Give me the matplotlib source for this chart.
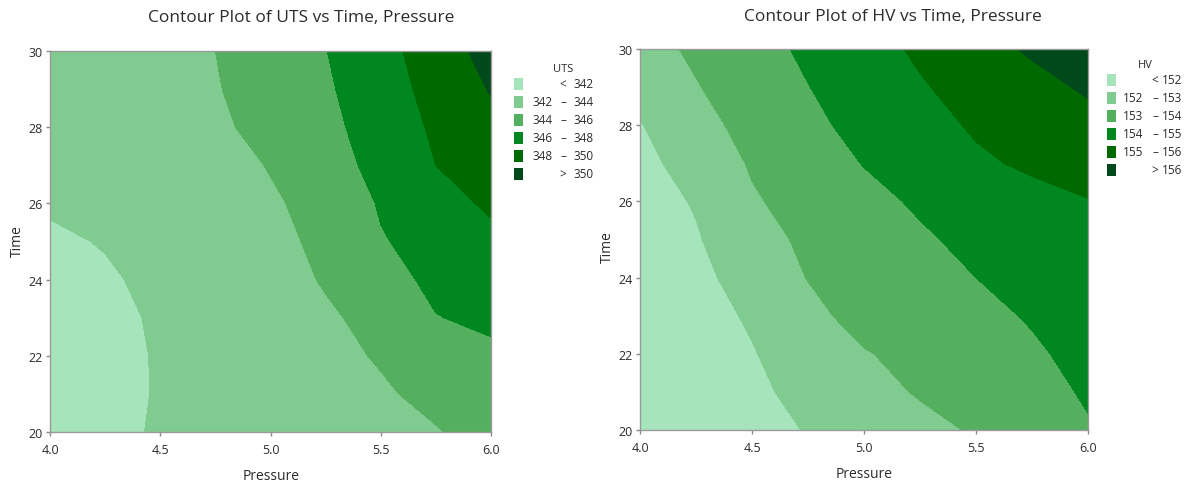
import matplotlib
matplotlib.use('Agg')
import matplotlib.pyplot as plt
from matplotlib.patches import Rectangle

plt.rcParams['font.family'] = ['Open Sans', 'DejaVu Sans']

# grid
pressure = [4.0, 4.25, 4.5, 4.75, 5.0, 5.25, 5.5, 5.75, 6.0]
time = [20, 21, 22, 23, 24, 25, 26, 27, 28, 29, 30]

# UTS, one row per time value
uts = [
    [341.40, 341.75, 342.10, 342.46, 342.83, 343.19, 343.55, 343.91, 344.60],
    [341.35, 341.70, 342.07, 342.50, 342.94, 343.37, 343.81, 344.39, 345.10],
    [341.35, 341.70, 342.08, 342.58, 343.08, 343.58, 344.13, 344.91, 345.70],
    [341.40, 341.74, 342.13, 342.70, 343.26, 343.82, 344.38, 345.95, 346.30],
    [341.55, 341.85, 342.28, 342.87, 343.46, 344.11, 345.42, 346.34, 346.95],
    [341.80, 342.07, 342.61, 343.15, 343.70, 344.24, 345.85, 346.75, 347.60],
    [342.15, 342.58, 343.01, 343.45, 343.88, 344.31, 346.19, 347.38, 348.25],
    [342.45, 342.84, 343.23, 343.63, 344.05, 345.24, 346.53, 348.00, 348.90],
    [342.70, 343.06, 343.41, 343.77, 344.40, 345.51, 346.85, 348.29, 349.50],
    [342.95, 343.27, 343.58, 343.90, 344.71, 345.75, 347.12, 348.63, 350.12],
    [343.20, 343.47, 343.73, 344.00, 344.98, 345.96, 347.37, 348.95, 350.75],
]

# HV, one row per time value
hv = [
    [151.10, 151.41, 151.73, 152.04, 152.39, 152.73, 153.09, 153.51, 153.93],
    [151.15, 151.49, 151.84, 152.23, 152.67, 153.08, 153.39, 153.71, 154.09],
    [151.20, 151.58, 151.95, 152.44, 152.94, 153.27, 153.57, 153.87, 154.27],
    [151.30, 151.68, 152.10, 152.73, 153.34, 153.46, 153.76, 154.08, 154.45],
    [151.40, 151.79, 152.34, 153.03, 153.35, 153.68, 154.00, 154.31, 154.62],
    [151.50, 151.92, 152.63, 153.18, 153.54, 153.89, 154.20, 154.50, 154.80],
    [151.62, 152.07, 152.90, 153.35, 153.76, 154.11, 154.40, 154.75, 154.97],
    [151.76, 152.35, 153.09, 153.57, 154.03, 154.45, 154.87, 155.13, 155.33],
    [151.95, 152.69, 153.29, 153.80, 154.26, 154.70, 155.10, 155.41, 155.72],
    [152.35, 152.95, 153.47, 153.98, 154.45, 154.92, 155.33, 155.72, 156.12],
    [152.65, 153.15, 153.66, 154.16, 154.65, 155.14, 155.65, 156.12, 156.50],
]

uts_levels = [342, 344, 346, 348, 350]
hv_levels = [152, 153, 154, 155, 156]
greens = ['#a6e4bc', '#80cb90', '#54b05e', '#00871f', '#006a00', '#00491a']

W, H = 1198, 489
txt = '#2b2b2b'


def fx(x):
    return x / W


def fy(y):
    return 1 - y / H


fig = plt.figure(figsize=(W / 100, H / 100), dpi=100)


def panel(rect, z, levels, name, title_xy, xlab_xy, ylab_xy, leg):
    ax = fig.add_axes(rect)
    ax.contourf(pressure, time, z, levels=levels, colors=greens, extend='both')
    ax.set_xlim(4, 6)
    ax.set_ylim(20, 30)
    ax.set_xticks([4.0, 4.5, 5.0, 5.5, 6.0])
    ax.set_xticklabels(['4.0', '4.5', '5.0', '5.5', '6.0'])
    ax.set_yticks([20, 22, 24, 26, 28, 30])
    ax.tick_params(direction='out', length=3, width=1, color='#8a8a8a',
                   labelsize=9, labelcolor=txt)
    ax.tick_params(axis='x', pad=5)
    ax.tick_params(axis='y', pad=2)
    for s in ax.spines.values():
        s.set_color('#9a9a9a')
        s.set_linewidth(1)

    fig.text(fx(title_xy[0]), fy(title_xy[1]),
             'Contour Plot of %s vs Time, Pressure' % name,
             ha='center', va='center', fontsize=12.5, color=txt)
    fig.text(fx(xlab_xy[0]), fy(xlab_xy[1]), 'Pressure',
             ha='center', va='center', fontsize=10, color=txt)
    fig.text(fx(ylab_xy[0]), fy(ylab_xy[1]), 'Time', rotation=90,
             ha='center', va='center', fontsize=10, color=txt)

    # legend, drawn by hand to look like the Minitab key
    sw_x, n1_r, dash_x, n2_r, y0, dy, t_x = leg
    fig.text(fx(t_x), fy(y0 - 16), name,
             ha='center', va='center', fontsize=8, color=txt)
    for i, c in enumerate(greens):
        y = y0 + dy * i
        fig.add_artist(Rectangle((fx(sw_x), fy(y + 6)), 9 / W, 12 / H,
                                 transform=fig.transFigure,
                                 facecolor=c, edgecolor='none'))
        if i == 0 or i == len(greens) - 1:
            sign = '<' if i == 0 else '>'
            val = levels[0] if i == 0 else levels[-1]
            fig.text(fx(dash_x), fy(y), sign, ha='center', va='center',
                     fontsize=8.5, color=txt)
            fig.text(fx(n2_r), fy(y), str(val), ha='right',
                     va='center', fontsize=8.5, color=txt)
        else:
            fig.text(fx(n1_r), fy(y), str(levels[i - 1]), ha='right',
                     va='center', fontsize=8.5, color=txt)
            fig.text(fx(dash_x), fy(y), '–', ha='center', va='center',
                     fontsize=8.5, color=txt)
            fig.text(fx(n2_r), fy(y), str(levels[i]), ha='right',
                     va='center', fontsize=8.5, color=txt)
    return ax


panel([fx(50), fy(433), 441 / W, 381 / H], uts, uts_levels, 'UTS',
      (301, 18), (271, 477), (17, 241),
      (514, 553, 563, 594, 85, 18, 563))
panel([fx(640), fy(431), 448 / W, 381 / H], hv, hv_levels, 'HV',
      (893, 17), (864, 475), (607, 247),
      (1107, 1143, 1155, 1182, 81, 18, 1145))

fig.savefig('out.png', dpi=100)
